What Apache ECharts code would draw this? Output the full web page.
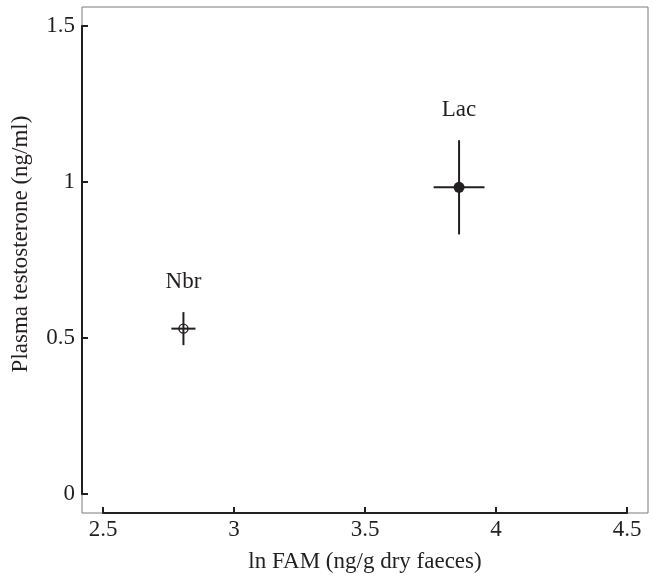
<!DOCTYPE html>
<html>
<head>
<meta charset="utf-8">
<script src="https://cdn.jsdelivr.net/npm/echarts@6/dist/echarts.min.js"></script>
<style>
html,body{margin:0;padding:0;background:#fff;}
#chart{width:655px;height:579px;}
</style>
</head>
<body>
<div id="chart"></div>
<script>
// Data
const groups = ['Nbr', 'Lac'];
const lnFAM = [2.807, 3.859];
const lnFAMErr = [0.046, 0.097];
const testosterone = [0.530, 0.983];
const testosteroneErr = [0.053, 0.151];
const openMarker = [true, false];
const xTicks = [2.5, 3, 3.5, 4, 4.5];
const yTicks = [0, 0.5, 1, 1.5];

const INK = '#231f20';
const FONT = 'Liberation Serif';

const rows = groups.map((g, i) => [lnFAM[i], testosterone[i], lnFAMErr[i], testosteroneErr[i], g]);

const chart = echarts.init(document.getElementById('chart'), null, {renderer: 'canvas'});
chart.setOption({
  animation: false,
  backgroundColor: '#fff',
  textStyle: {fontFamily: FONT, color: INK},
  grid: [
    {left: 82, right: 7, top: 7, bottom: 66, show: true, borderColor: '#7a7a7a', borderWidth: 1, backgroundColor: 'transparent'},
    {left: 103, right: 28, top: 26, bottom: 85}
  ],
  xAxis: [
    {gridIndex: 0, type: 'value', min: 0, max: 1, show: false},
    {
      gridIndex: 1, type: 'value', min: xTicks[0], max: xTicks[xTicks.length - 1], interval: 0.5,
      offset: 19,
      name: 'ln FAM (ng/g dry faeces)', nameLocation: 'middle', nameGap: 37,
      nameTextStyle: {fontFamily: FONT, fontSize: 23, color: INK},
      axisLine: {show: true, onZero: false, lineStyle: {color: INK, width: 2}},
      axisTick: {show: true, inside: true, length: 6, lineStyle: {color: INK, width: 2}},
      axisLabel: {fontFamily: FONT, fontSize: 23, color: INK, margin: 5},
      splitLine: {show: false}
    }
  ],
  yAxis: [
    {gridIndex: 0, type: 'value', min: 0, max: 1, show: false},
    {
      gridIndex: 1, type: 'value', min: yTicks[0], max: yTicks[yTicks.length - 1], interval: 0.5,
      offset: 21,
      name: 'Plasma testosterone (ng/ml)', nameLocation: 'middle', nameGap: 50,
      nameTextStyle: {fontFamily: FONT, fontSize: 23, color: INK, padding: [0, 0, 0, 32]},
      axisLine: {show: true, onZero: false, lineStyle: {color: INK, width: 2}},
      axisTick: {show: true, inside: true, length: 6, lineStyle: {color: INK, width: 2}},
      axisLabel: {fontFamily: FONT, fontSize: 23, color: INK, margin: 7},
      splitLine: {show: false}
    }
  ],
  series: [
    {
      type: 'custom',
      xAxisIndex: 1, yAxisIndex: 1,
      data: rows,
      renderItem: function (params, api) {
        const x = api.value(0), y = api.value(1), ex = api.value(2), ey = api.value(3);
        const left = api.coord([x - ex, y]);
        const right = api.coord([x + ex, y]);
        const top = api.coord([x, y + ey]);
        const bottom = api.coord([x, y - ey]);
        const style = {stroke: INK, lineWidth: 2};
        return {
          type: 'group',
          children: [
            {type: 'line', shape: {x1: left[0], y1: left[1], x2: right[0], y2: right[1]}, style: style},
            {type: 'line', shape: {x1: top[0], y1: top[1], x2: bottom[0], y2: bottom[1]}, style: style},
            {type: 'text', x: top[0], y: top[1] - 30,
             style: {text: groups[params.dataIndex], fontFamily: FONT, fontSize: 23, fill: INK, align: 'center', verticalAlign: 'middle'}}
          ]
        };
      },
      z: 2
    },
    {
      type: 'scatter',
      xAxisIndex: 1, yAxisIndex: 1,
      data: rows.map((r, i) => ({
        value: [r[0], r[1]],
        symbolSize: openMarker[i] ? 9 : 11,
        itemStyle: openMarker[i]
          ? {color: 'rgba(255,255,255,0)', borderColor: INK, borderWidth: 1.4, opacity: 1}
          : {color: INK, borderColor: INK, borderWidth: 0, opacity: 1}
      })),
      symbol: 'circle',
      z: 3
    }
  ]
});
</script>
</body>
</html>
